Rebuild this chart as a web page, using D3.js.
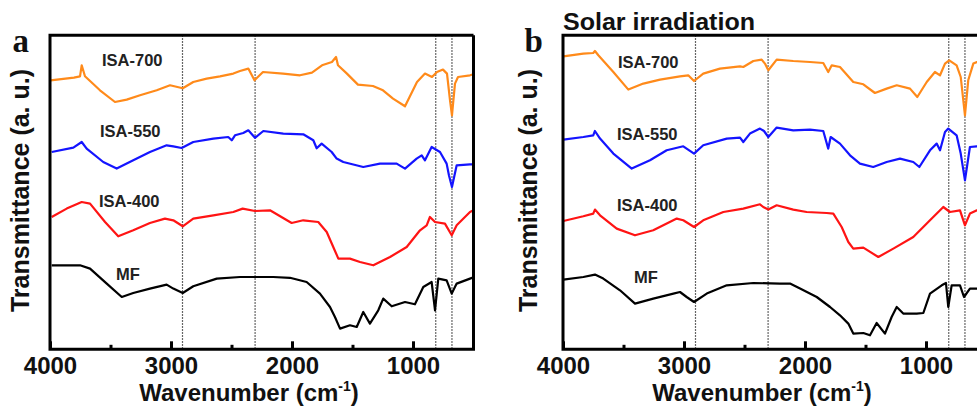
<!DOCTYPE html>
<html>
<head>
<meta charset="utf-8">
<script src="https://cdn.jsdelivr.net/npm/d3@7"></script>
<style>
    body { margin: 0; background: #fff; }
    svg { display: block; font-family: "Liberation Sans", Arial, sans-serif; }
</style>
</head>
<body>
<svg id="drawing_region"></svg>
<script>
// [wavenumber (cm-1), transmittance (a.u., offset)]
const a_isa700 = [[3995,269],[3802,271.7],[3752,273],[3738,284],[3711,273],[3587,259],[3463,247.3],[3366,249.7],[3256,254],[3118,259],[3008,264],[2903,261],[2816,267.3],[2705,270.7],[2595,273],[2485,275.7],[2430,278.3],[2361,280.7],[2310,269],[2240,277.3],[2074,275.7],[1934,274],[1835,276.7],[1752,284],[1670,287.3],[1636,292.3],[1620,284],[1546,275.7],[1455,264.7],[1331,263.3],[1248,259],[1165,250.7],[1066,243],[967,267.3],[901,275.7],[843,272.3],[802,277.3],[752,279.7],[719,275.7],[694,249],[678,234],[653,265.7],[628,272.3],[529,274],[500,275]];
const a_isa550 = [[3986,197.3],[3807,201.7],[3738,207.3],[3697,200.7],[3560,187.3],[3449,180.7],[3312,189],[3174,197.3],[3036,204],[2981,203],[2912,201.3],[2816,207.3],[2650,210.7],[2527,212.3],[2498,209],[2471,214],[2403,216.3],[2361,219],[2306,211.5],[2237,218.3],[2072,215.7],[1907,215],[1824,209],[1796,201],[1755,205.7],[1672,197.3],[1631,190.7],[1576,187.3],[1411,182.3],[1273,185.7],[1135,185.7],[1066,180.7],[970,190.7],[928,194],[901,189],[846,202.3],[777,197.3],[722,185.7],[703,174],[678,162.3],[639,184],[529,185],[500,185]];
const a_isa400 = [[3986,132.3],[3862,140.7],[3738,147.3],[3669,145.7],[3545,127.3],[3436,113],[3312,119],[3174,126.3],[3050,130.7],[2981,129],[2903,123],[2816,130.7],[2650,134],[2485,137.3],[2408,140.7],[2306,138.3],[2182,139],[2003,126.3],[1907,129],[1783,127.3],[1713,117.3],[1659,102.3],[1617,90.7],[1521,90.7],[1438,87.3],[1328,84],[1190,92.3],[1052,102.3],[942,119],[887,124],[860,132.3],[818,127.3],[736,125.7],[680,114],[639,124],[529,137.3],[500,139]];
const a_mf = [[3986,84],[3752,84],[3669,80.7],[3531,65.7],[3407,52.3],[3312,56.3],[3174,60.7],[3036,64.7],[2981,60.7],[2903,56.3],[2816,63],[2622,70.7],[2430,72.3],[2155,72.3],[2017,71.5],[1879,67.3],[1769,55.7],[1686,42.3],[1645,32.3],[1603,20.7],[1521,24],[1465,22.3],[1411,37.3],[1356,25.7],[1287,39],[1246,50.7],[1176,43],[1066,47.3],[984,45],[915,62.3],[846,67.3],[818,39],[791,70.7],[722,69],[680,55.7],[639,65.7],[529,70.7],[500,72]];

const b_isa700 = [[3997,293],[3832,295.7],[3750,296.3],[3736,298.3],[3708,294],[3584,277.3],[3460,259.7],[3336,265.7],[3198,269.7],[3033,273],[2965,274],[2917,268.3],[2841,275.7],[2703,280.7],[2537,283],[2510,282.3],[2427,288.3],[2358,289.7],[2331,285.7],[2303,279],[2234,289.7],[2097,288.3],[1959,287.3],[1849,286.3],[1808,277.3],[1779,284],[1711,282.3],[1601,267.3],[1518,265],[1422,256.3],[1325,260.7],[1242,264],[1132,260.7],[1072,252.3],[994,267.3],[926,277.3],[884,274],[843,285.7],[808,289],[747,284],[713,272.3],[678,234],[651,269],[609,285.7],[579,287.3],[500,287]];
const b_isa550 = [[3997,209.7],[3832,212.3],[3750,214],[3736,218.3],[3694,210.7],[3584,195.7],[3432,180.7],[3281,189],[3143,199],[3006,203],[2917,195.7],[2841,204],[2647,210.7],[2537,211.7],[2510,207.3],[2455,215.7],[2372,220.7],[2339,218.3],[2303,212.3],[2234,221.7],[2097,219],[1959,219.7],[1849,218.3],[1808,200.7],[1788,212.3],[1711,205.7],[1628,194],[1546,185.7],[1436,182.3],[1325,187.3],[1215,190.7],[1105,187.3],[1055,182.3],[967,199],[912,205.7],[884,199],[843,217.3],[816,220.7],[747,214],[713,195.7],[678,169],[637,202.3],[581,203],[500,203]];
const b_isa400 = [[3997,128.3],[3832,133],[3750,135.7],[3736,139.7],[3694,134],[3556,120.7],[3405,114],[3254,119],[3060,130.7],[3006,129],[2917,122.3],[2841,129],[2675,137.3],[2510,140.7],[2372,145],[2345,142.3],[2303,139.7],[2234,144],[2097,139.7],[1986,137.3],[1821,136.3],[1766,135.7],[1697,122.3],[1642,107.3],[1601,100.7],[1518,101.7],[1394,92.3],[1270,100.7],[1105,112.3],[967,129],[857,142.3],[802,137.3],[719,139],[678,124],[637,135.7],[579,139],[500,140]];
const b_mf = [[3997,69.7],[3832,72.3],[3736,74.7],[3667,70.7],[3529,59],[3405,45.7],[3254,50.7],[3088,55.7],[3033,57.3],[2978,52.3],[2917,47.3],[2812,55.7],[2647,64],[2427,66.3],[2207,65.7],[2124,65.7],[2041,60.7],[1903,52.3],[1793,42.3],[1711,34],[1642,25.7],[1601,15.7],[1518,16.3],[1463,14],[1408,26.3],[1339,15.7],[1284,32.3],[1242,42.3],[1188,35.7],[1077,35.7],[1022,36.3],[967,55.7],[870,64],[835,66.3],[816,42.3],[788,64],[719,64],[686,52.3],[637,60.7],[579,60.7],[500,61]];

const seriesNames = ['ISA-700', 'ISA-550', 'ISA-400', 'MF'];
const seriesColors = ['#ff8a1a', '#1414ff', '#ff1414', '#000000'];
const majorTicks = [4000, 3000, 2000, 1000];
const minorTicks = [3500, 2500, 1500];
const markerLines = [2905, 2305, 812, 678];

const svg = d3.select('#drawing_region')
    .attr('width', 977)
    .attr('height', 407);

class SpectraPanel {

    constructor( config, series ) {
        this.config = config;
        this.series = series;
        this.init();
    }

    init() {
        let self = this;
        const c = self.config;

        self.xscale = d3.scaleLinear()
            .domain([4000, 500])
            .range([c.left, c.left + 423.5]);

        self.yscale = d3.scaleLinear()
            .domain([0, 314])
            .range([c.bottom, c.bottom - 314]);

        self.chart = svg.append('g');
    }

    render() {
        let self = this;
        const c = self.config;
        const x0 = self.xscale(4000), x1 = self.xscale(500);
        const y0 = self.yscale(0), y1 = self.yscale(314);

        // dotted marker lines
        self.chart.selectAll('.marker')
            .data(markerLines)
            .enter()
            .append('line')
            .attr('x1', d => self.xscale(d))
            .attr('x2', d => self.xscale(d))
            .attr('y1', y1)
            .attr('y2', y0)
            .attr('stroke', '#333')
            .attr('stroke-width', 1.2)
            .attr('stroke-dasharray', '1.5,1.5');

        const line = d3.line()
            .x( d => self.xscale(d[0]) )
            .y( d => self.yscale(d[1]) );

        self.chart.selectAll('.spectrum')
            .data(self.series)
            .enter()
            .append('path')
            .attr('d', d => line(d))
            .attr('fill', 'none')
            .attr('stroke', (d, i) => seriesColors[i])
            .attr('stroke-width', 2.2)
            .attr('stroke-linejoin', 'round');

        // series labels
        self.chart.selectAll('.label')
            .data(seriesNames)
            .enter()
            .append('text')
            .attr('x', (d, i) => c.labels[i][0])
            .attr('y', (d, i) => c.labels[i][1])
            .attr('font-size', '16.5px')
            .attr('font-weight', 700)
            .attr('fill', '#222')
            .text(d => d);

        // frame
        self.chart.append('path')
            .attr('d', `M${x1},${y1}H${x0}V${y0}H${x1}V${y1}`)
            .attr('fill', 'none')
            .attr('stroke', '#000')
            .attr('stroke-width', 3);

        // ticks
        const axis = self.chart.append('g')
            .attr('transform', `translate(0, ${y0})`)
            .call( d3.axisBottom(self.xscale).tickValues(majorTicks).tickFormat(d3.format('d'))
                .tickSizeInner(-8).tickSizeOuter(0) );
        axis.select('.domain').remove();
        axis.selectAll('.tick line').attr('stroke-width', 3);
        axis.selectAll('.tick text')
            .attr('dy', null)
            .attr('y', 24.5)
            .attr('font-size', '24px')
            .attr('font-weight', 700)
            .attr('font-family', '"Liberation Sans", Arial, sans-serif')
            .attr('fill', '#111');

        const minor = self.chart.append('g')
            .attr('transform', `translate(0, ${y0})`)
            .call( d3.axisBottom(self.xscale).tickValues(minorTicks).tickSizeInner(-4.5).tickSizeOuter(0).tickFormat('') );
        minor.select('.domain').remove();
        minor.selectAll('.tick line').attr('stroke-width', 3);

        // axis titles
        const xt = self.chart.append('text')
            .attr('x', c.xTitleX)
            .attr('y', 401)
            .attr('text-anchor', 'middle')
            .attr('font-size', '24px')
            .attr('font-weight', 700)
            .attr('fill', '#111');
        xt.append('tspan').text('Wavenumber (cm');
        xt.append('tspan').attr('font-size', '14px').attr('dy', -10).text('-1');
        xt.append('tspan').attr('dy', 10).text(')');

        self.chart.append('text')
            .attr('transform', `translate(${c.yTitleX}, 190.5) rotate(-90)`)
            .attr('text-anchor', 'middle')
            .attr('font-size', '25px')
            .attr('font-weight', 700)
            .attr('fill', '#111')
            .text('Transmittance (a. u.)');

        // panel letter
        self.chart.append('text')
            .attr('x', c.letterX)
            .attr('y', 52)
            .attr('font-family', '"Liberation Serif", "Times New Roman", serif')
            .attr('font-size', '33px')
            .attr('font-weight', 700)
            .attr('fill', '#111')
            .text(c.letter);

        if (c.title) {
            self.chart.append('text')
                .attr('x', c.left)
                .attr('y', 29.5)
                .attr('font-size', '23px')
                .attr('font-weight', 700)
                .attr('fill', '#111')
                .attr('textLength', 192)
                .attr('lengthAdjust', 'spacingAndGlyphs')
                .text(c.title);
        }
    }
}

const panelA = new SpectraPanel({
    left: 50, bottom: 349.3,
    letter: 'a', letterX: 12.5,
    xTitleX: 249, yTitleX: 28.5,
    labels: [[102, 66], [100, 137], [99, 207], [116, 280]]
}, [a_isa700, a_isa550, a_isa400, a_mf]);
panelA.render();

const panelB = new SpectraPanel({
    left: 563, bottom: 349.3,
    letter: 'b', letterX: 524.5,
    xTitleX: 762, yTitleX: 537,
    title: 'Solar irradiation',
    labels: [[618, 68], [617, 140], [617, 211], [634, 283]]
}, [b_isa700, b_isa550, b_isa400, b_mf]);
panelB.render();
</script>
</body>
</html>
